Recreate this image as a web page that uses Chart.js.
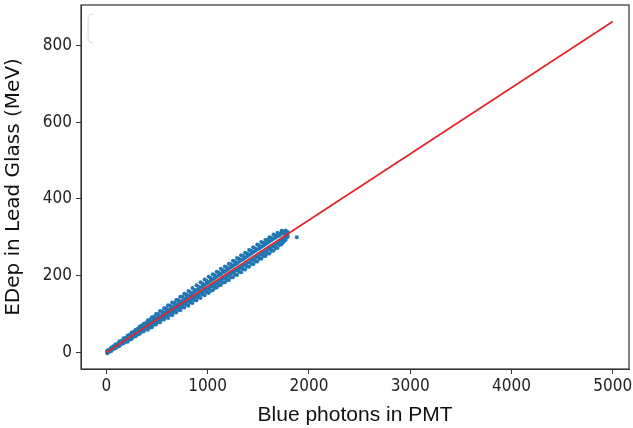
<!DOCTYPE html>
<html>
<head>
<meta charset="utf-8">
<script src="https://cdn.jsdelivr.net/npm/chart.js@4"></script>
<style>
  html, body { margin: 0; padding: 0; background: #fff; }
  #wrap { width: 633px; height: 428px; }
</style>
</head>
<body>
<div id="wrap"><canvas id="edepChart" width="633" height="428"></canvas></div>
<script>
// Blue photons in PMT, sampled along the band
const photons = [
  10, 30, 50, 70, 90, 110, 130, 150, 170, 190,
  210, 230, 250, 270, 290, 310, 330, 350, 370, 390,
  410, 430, 450, 470, 490, 510, 530, 550, 570, 590,
  610, 630, 650, 670, 690, 710, 730, 750, 770, 790,
  810, 830, 850, 870, 890, 910, 930, 950, 970, 990,
  1010, 1030, 1050, 1070, 1090, 1110, 1130, 1150, 1170, 1190,
  1210, 1230, 1250, 1270, 1290, 1310, 1330, 1350, 1370, 1390,
  1410, 1430, 1450, 1470, 1490, 1510, 1530, 1550, 1570, 1590,
  1610, 1630, 1650, 1670, 1690, 1710, 1730, 1750, 1770, 1790
];
// EDep (MeV) at each photon count: upper edge, upper middle, lower middle, lower edge of the band
const edepUpper = [
  5, 8, 13, 16, 21, 23, 29, 30, 37, 38,
  44, 46, 52, 54, 59, 62, 68, 70, 75, 77,
  84, 85, 92, 93, 100, 100, 108, 107, 115, 115,
  123, 122, 130, 129, 137, 137, 145, 145, 153, 151,
  160, 157, 168, 163, 175, 171, 183, 180, 190, 187,
  197, 194, 204, 201, 210, 208, 218, 214, 224, 222,
  231, 230, 239, 237, 246, 244, 253, 251, 260, 258,
  267, 265, 274, 271, 281, 278, 288, 285, 293, 293,
  300, 298, 307, 305, 312, 309, 317, 315, 318, 314
];
const edepUpperMid = [
  3, 5, 10, 12, 17, 19, 24, 26, 31, 33,
  38, 40, 45, 47, 53, 55, 60, 63, 67, 70,
  74, 77, 81, 85, 88, 92, 96, 98, 103, 106,
  110, 113, 117, 121, 124, 128, 132, 135, 139, 143,
  147, 150, 154, 158, 162, 165, 169, 172, 176, 180,
  183, 187, 190, 194, 197, 201, 204, 208, 211, 215,
  218, 222, 225, 229, 232, 236, 240, 243, 247, 250,
  254, 257, 261, 264, 268, 271, 275, 278, 282, 285,
  289, 292, 296, 299, 303, 305, 309, 310, 312, 311
];
const edepLowerMid = [
  0, 4, 7, 11, 13, 18, 20, 25, 27, 32,
  32, 38, 39, 45, 46, 51, 53, 58, 60, 65,
  66, 70, 73, 77, 80, 83, 86, 90, 93, 96,
  99, 103, 106, 109, 113, 116, 120, 123, 127, 130,
  133, 137, 140, 144, 146, 151, 153, 157, 160, 164,
  166, 171, 173, 178, 180, 185, 187, 192, 194, 198,
  201, 206, 208, 212, 214, 219, 221, 226, 228, 233,
  235, 240, 242, 246, 249, 253, 256, 260, 263, 267,
  270, 274, 277, 281, 284, 288, 291, 295, 298, 304
];
const edepLower = [
  -2, 2, 4, 9, 11, 15, 17, 22, 24, 28,
  28, 34, 35, 41, 42, 47, 49, 54, 55, 61,
  59, 65, 66, 72, 73, 79, 79, 86, 86, 93,
  90, 98, 97, 104, 104, 111, 110, 118, 117, 125,
  122, 130, 129, 137, 136, 144, 142, 151, 149, 157,
  155, 161, 162, 168, 169, 175, 176, 182, 183, 189,
  189, 196, 196, 203, 202, 210, 209, 217, 216, 224,
  223, 231, 230, 237, 237, 244, 244, 251, 251, 258,
  258, 265, 265, 272, 272, 280, 282, 288, 293, 301
];
// lone point past the end of the band
const strayX = [1880];
const strayY = [300];

// Linear fit drawn across the full range
const fitX = [0, 5000];
const fitY = [0, 862];

// Axis ticks
const xTicks = [0, 1000, 2000, 3000, 4000, 5000];
const yTicks = [0, 200, 400, 600, 800];

const scatterPoints = [];
[edepUpper, edepUpperMid, edepLowerMid, edepLower].forEach(ys => {
  photons.forEach((x, i) => scatterPoints.push({ x: x, y: ys[i] }));
});
strayX.forEach((x, i) => scatterPoints.push({ x: x, y: strayY[i] }));
const fitPoints = fitX.map((x, i) => ({ x: x, y: fitY[i] }));

// Frame around the plot area plus the empty legend box
const framePlugin = {
  id: 'frame',
  afterDraw(chart) {
    const { ctx, chartArea: a } = chart;
    ctx.save();
    ctx.strokeStyle = '#333';
    ctx.lineWidth = 1.2;
    ctx.strokeRect(a.left, a.top, a.right - a.left, a.bottom - a.top);
    // empty legend box (only its left edge shows)
    ctx.strokeStyle = '#d8d8d8';
    ctx.lineWidth = 1;
    ctx.beginPath();
    ctx.moveTo(93, 14);
    ctx.quadraticCurveTo(88, 14, 88, 19);
    ctx.lineTo(88, 38);
    ctx.quadraticCurveTo(88, 43, 93, 43);
    ctx.stroke();
    ctx.restore();
  }
};

const tickFont = { family: "'DejaVu Sans Condensed', 'DejaVu Sans'", size: 17 };

const ctx = document.getElementById('edepChart').getContext('2d');
const edepChart = new Chart(ctx, {
  type: 'scatter',
  data: {
    datasets: [
      {
        label: 'fit',
        type: 'line',
        data: fitPoints,
        borderColor: '#e3262c',
        borderWidth: 1.8,
        pointRadius: 0,
        fill: false,
        order: 0
      },
      {
        label: 'data',
        data: scatterPoints,
        backgroundColor: '#1f77b4',
        borderWidth: 0,
        pointRadius: 2,
        order: 1
      }
    ]
  },
  options: {
    responsive: false,
    animation: false,
    layout: { padding: { top: 5, right: 3, left: 0, bottom: 0 } },
    scales: {
      x: {
        type: 'linear',
        min: -250,
        max: 5160,
        afterBuildTicks: scale => { scale.ticks = xTicks.map(v => ({ value: v })); },
        afterFit: scale => {
          scale.height = 59;
          scale.paddingLeft = 0;
          scale.paddingRight = 0;
        },
        grid: { drawOnChartArea: false, drawTicks: true, tickLength: 5, color: '#333' },
        border: { display: true, color: '#333' },
        ticks: {
          color: '#222',
          padding: 2,
          maxRotation: 0,
          font: tickFont,
          callback: value => String(value)
        },
        title: {
          display: true,
          text: 'Blue photons in PMT',
          color: '#111',
          padding: { top: 0, bottom: 0 },
          font: { family: "'Liberation Sans', Arial", size: 21 }
        }
      },
      y: {
        type: 'linear',
        min: -43,
        max: 905,
        afterBuildTicks: scale => { scale.ticks = yTicks.map(v => ({ value: v })); },
        afterFit: scale => {
          scale.width = 81;
          scale.paddingTop = 0;
          scale.paddingBottom = 0;
        },
        grid: { drawOnChartArea: false, drawTicks: true, tickLength: 5, color: '#333' },
        border: { display: true, color: '#333' },
        ticks: {
          color: '#222',
          padding: 4,
          font: tickFont,
          callback: value => String(value)
        },
        title: {
          display: true,
          text: 'EDep in Lead Glass (MeV)',
          color: '#111',
          padding: { top: 2, bottom: 2 },
          font: { family: "'DejaVu Sans'", size: 20 }
        }
      }
    },
    plugins: {
      legend: { display: false },
      tooltip: { enabled: false }
    }
  },
  plugins: [framePlugin]
});
</script>
</body>
</html>
